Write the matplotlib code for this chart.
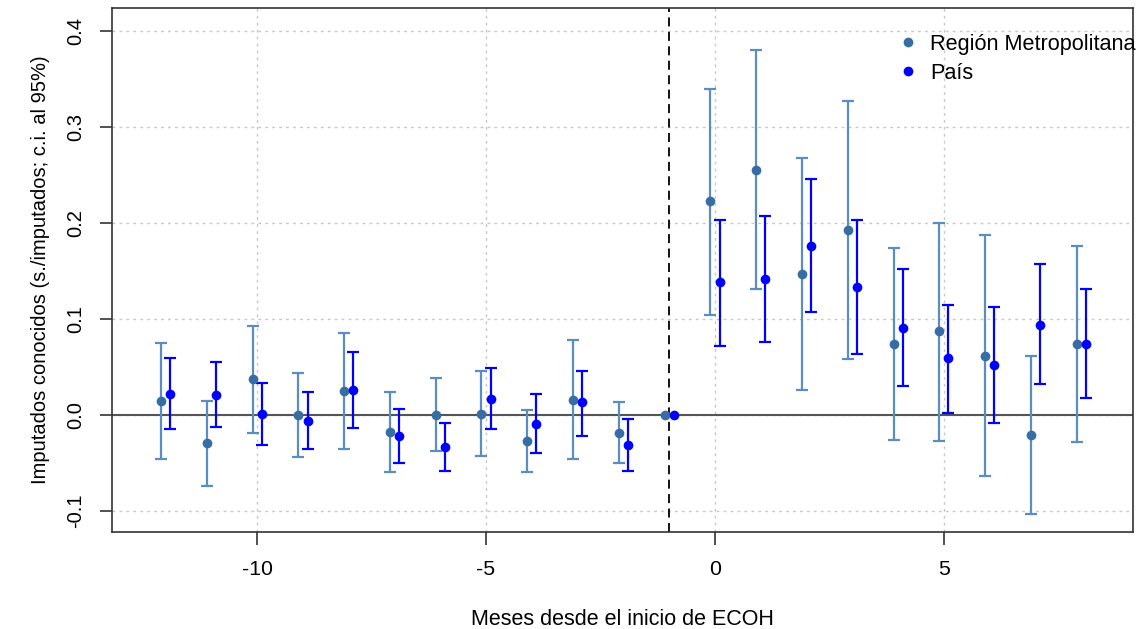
import matplotlib
matplotlib.use("Agg")
import matplotlib.pyplot as plt
import numpy as np

plt.rcParams['font.family'] = ['Liberation Sans', 'DejaVu Sans']

months = [-12, -11, -10, -9, -8, -7, -6, -5, -4, -3, -2, -1, 0, 1, 2, 3, 4, 5, 6, 7, 8]

# Región Metropolitana: estimate, lower and upper 95% bounds
rm_est = [0.014, -0.029, 0.037, 0.000, 0.025, -0.018, 0.000, 0.001, -0.027, 0.016, -0.019, 0.0,
          0.223, 0.255, 0.147, 0.193, 0.074, 0.087, 0.061, -0.021, 0.074]
rm_lo = [-0.046, -0.074, -0.019, -0.044, -0.036, -0.059, -0.038, -0.043, -0.060, -0.046, -0.050, 0.0,
         0.104, 0.131, 0.026, 0.058, -0.026, -0.027, -0.064, -0.103, -0.028]
rm_hi = [0.075, 0.015, 0.093, 0.044, 0.085, 0.024, 0.038, 0.046, 0.005, 0.078, 0.013, 0.0,
         0.340, 0.380, 0.268, 0.327, 0.174, 0.200, 0.187, 0.061, 0.176]

# País: estimate, lower and upper 95% bounds
pais_est = [0.022, 0.021, 0.001, -0.006, 0.026, -0.022, -0.033, 0.017, -0.009, 0.013, -0.031, 0.0,
            0.138, 0.142, 0.176, 0.133, 0.091, 0.059, 0.052, 0.094, 0.074]
pais_lo = [-0.015, -0.013, -0.031, -0.035, -0.014, -0.050, -0.058, -0.015, -0.040, -0.022, -0.058, 0.0,
           0.072, 0.076, 0.107, 0.063, 0.030, 0.002, -0.008, 0.032, 0.018]
pais_hi = [0.059, 0.055, 0.033, 0.024, 0.066, 0.006, -0.008, 0.049, 0.022, 0.046, -0.004, 0.0,
           0.203, 0.207, 0.246, 0.203, 0.152, 0.115, 0.112, 0.157, 0.131]

y_ticks = [-0.1, 0.0, 0.1, 0.2, 0.3, 0.4]
y_tick_labels = ["-0.1", "0.0", "0.1", "0.2", "0.3", "0.4"]
x_ticks = [-10, -5, 0, 5]

rm_point_color = "#386da3"
rm_bar_color = "#5a8ec2"
pais_color = "#0000ff"

fig = plt.figure(figsize=(11.36, 6.29), dpi=100)
ax = fig.add_axes([112 / 1136, 1 - 532 / 629, 1021 / 1136, 524 / 629])

x = np.array(months, dtype=float)
offset = 0.1

def draw_series(xpos, est, lo, hi, bar_color, point_color):
    est = np.array(est)
    lo = np.array(lo)
    hi = np.array(hi)
    has_ci = hi > lo
    ax.errorbar(xpos[has_ci], est[has_ci],
                yerr=[est[has_ci] - lo[has_ci], hi[has_ci] - est[has_ci]],
                fmt='none', ecolor=bar_color, elinewidth=1.6, capsize=4.0,
                capthick=1.6, zorder=3)
    ax.plot(xpos, est, 'o', color=point_color, markersize=7, zorder=4,
            markeredgewidth=0)

# grid and reference lines
for gx in x_ticks:
    ax.axvline(gx, color="#c8c8c8", linestyle=(0, (2, 3)), linewidth=1.0, zorder=1)
for gy in y_ticks:
    ax.axhline(gy, color="#c8c8c8", linestyle=(0, (2, 3)), linewidth=1.0, zorder=1)
ax.axhline(0, color="#555555", linewidth=1.5, zorder=2)
ax.axvline(-1, color="black", linestyle=(0, (5, 3)), linewidth=1.3, zorder=2)

draw_series(x - offset, rm_est, rm_lo, rm_hi, rm_bar_color, rm_point_color)
draw_series(x + offset, pais_est, pais_lo, pais_hi, pais_color, pais_color)

ax.set_xlim(-13.17, 9.13)
ax.set_ylim(-0.122, 0.424)
ax.set_xticks(x_ticks)
ax.set_xticklabels([str(t) for t in x_ticks])
ax.set_yticks(y_ticks)
ax.set_yticklabels(y_tick_labels, rotation=90, va='center')
ax.tick_params(axis='both', direction='out', length=9, width=1.2,
               color="#333333")
ax.tick_params(axis='x', pad=11, labelsize=15.3)
ax.tick_params(axis='y', pad=10, labelsize=14.5)
for sp in ax.spines.values():
    sp.set_linewidth(1.2)
    sp.set_color("#333333")

ax.set_xlabel("Meses desde el inicio de ECOH", fontsize=15.5, labelpad=22)
ax.set_ylabel("Imputados conocidos (s./imputados; c.i. al 95%)", fontsize=14.5, labelpad=12)

# legend
leg_x = (908 - 112) / 1021
leg_tx = (930 - 112) / 1021
for yy, label, col in [((532 - 42) / 524, "Región Metropolitana", rm_point_color),
                       ((532 - 71) / 524, "País", pais_color)]:
    ax.plot([leg_x], [yy], 'o', color=col, markersize=7, markeredgewidth=0,
            transform=ax.transAxes, clip_on=False, zorder=5)
    ax.text(leg_tx, yy - 2.5 / 524, label, transform=ax.transAxes, fontsize=15.6,
            va='center', ha='left', clip_on=False)

fig.savefig("out.png", dpi=100)
